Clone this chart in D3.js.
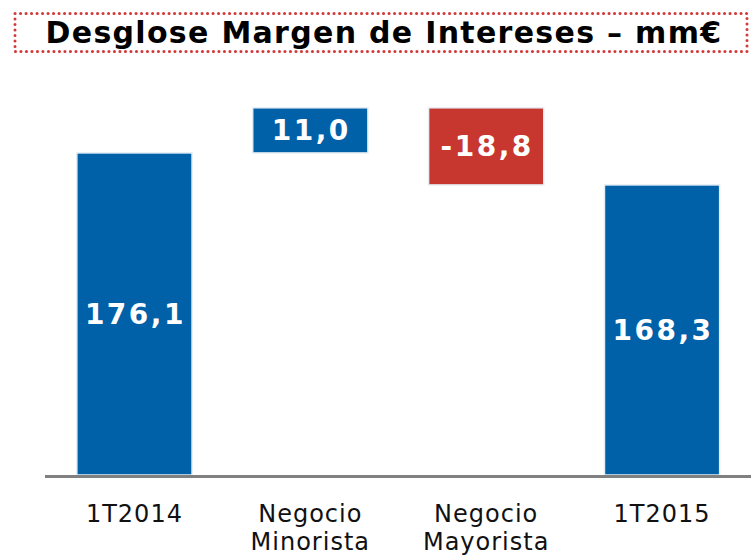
<!DOCTYPE html>
<html>
<head>
<meta charset="utf-8">
<script src="https://cdn.jsdelivr.net/npm/d3@7"></script>
<style>
  body { margin: 0; background: #fff; }
  svg { display: block; }
</style>
</head>
<body>
<svg id="chart" width="751" height="558"></svg>
<script>
const TITLE = 'Desglose Margen de Intereses – mm€'
const categories = [['1T2014'], ['Negocio', 'Minorista'], ['Negocio', 'Mayorista'], ['1T2015']]
const values = [176.1, 11.0, -18.8, 168.3]
const kinds = ['total', 'delta', 'delta', 'total']
const valueLabels = ['176,1', '11,0', '-18,8', '168,3']

const BLUE = '#0061a8'
const RED = '#c8372f'

const svg = d3.select('#chart')
const width = 751, height = 558

// title box with dotted red border
svg.append('rect')
    .attr('x', 15).attr('y', 13.5)
    .attr('width', 732).attr('height', 38)
    .attr('fill', 'none')
    .attr('stroke', '#d23a3a')
    .attr('stroke-width', 3)
    .attr('stroke-linecap', 'round')
    .attr('stroke-dasharray', '0.1 5.4');

svg.append('text')
    .attr('x', 384)
    .attr('y', 43)
    .attr('text-anchor', 'middle')
    .style('font-family', '"DejaVu Sans", Verdana, sans-serif')
    .style('font-weight', 'bold')
    .style('font-size', '30px')
    .style('letter-spacing', '1.3px')
    .style('fill', '#000')
    .text(TITLE);

// waterfall start / end for each step
let running = 0
const steps = values.map((v, i) => {
    let start, end
    if (kinds[i] === 'total') { start = null; end = v; running = v }
    else { start = running; end = running + v; running = end }
    return { i, v, start, end, kind: kinds[i], label: valueLabels[i] }
})

const baseline = 97.6
const x = d3.scaleBand()
    .domain(d3.range(categories.length))
    .range([46.5, 750])
    .paddingInner(0.345)
    .paddingOuter(0.1725);

const y = d3.scaleLinear()
    .domain([baseline, 187.1])
    .range([475, 107.8]);

const g = svg.append('g');

g.selectAll('rect.bar')
    .data(steps)
    .enter()
    .append('rect')
    .attr('class', 'bar')
    .attr('x', d => x(d.i))
    .attr('width', x.bandwidth())
    .attr('y', d => d.kind === 'total' ? y(d.end) : y(Math.max(d.start, d.end)))
    .attr('height', d => d.kind === 'total' ? y(baseline) - y(d.end) : Math.abs(y(d.start) - y(d.end)))
    .attr('fill', d => d.v < 0 ? RED : BLUE)
    .attr('stroke', '#e6eef5')
    .attr('stroke-width', 1.5);

// axis baseline
g.append('line')
    .attr('x1', 45).attr('x2', width)
    .attr('y1', y(baseline) + 1.5).attr('y2', y(baseline) + 1.5)
    .attr('stroke', '#808080')
    .attr('stroke-width', 3);

// value labels
g.selectAll('text.val')
    .data(steps)
    .enter()
    .append('text')
    .attr('class', 'val')
    .attr('x', d => x(d.i) + x.bandwidth() / 2 + 1)
    .attr('y', d => d.kind === 'total' ? (y(d.end) + y(baseline)) / 2 : (y(d.start) + y(d.end)) / 2)
    .attr('dy', '0.36em')
    .attr('text-anchor', 'middle')
    .style('font-family', '"DejaVu Sans", Verdana, sans-serif')
    .style('font-weight', 'bold')
    .style('font-size', '28px')
    .style('letter-spacing', '2.5px')
    .style('fill', '#fff')
    .text(d => d.label);

// category labels
const cat = g.selectAll('text.cat')
    .data(categories)
    .enter()
    .append('text')
    .attr('class', 'cat')
    .attr('x', (d, i) => x(i) + x.bandwidth() / 2)
    .attr('y', 522)
    .attr('text-anchor', 'middle')
    .style('font-family', '"DejaVu Sans", Verdana, sans-serif')
    .style('font-size', '24px')
    .style('letter-spacing', '1px')
    .style('fill', '#111');

cat.selectAll('tspan')
    .data(d => d)
    .enter()
    .append('tspan')
    .attr('x', function () { return this.parentNode.getAttribute('x') })
    .attr('dy', (d, i) => i === 0 ? 0 : 28)
    .text(d => d);
</script>
</body>
</html>
